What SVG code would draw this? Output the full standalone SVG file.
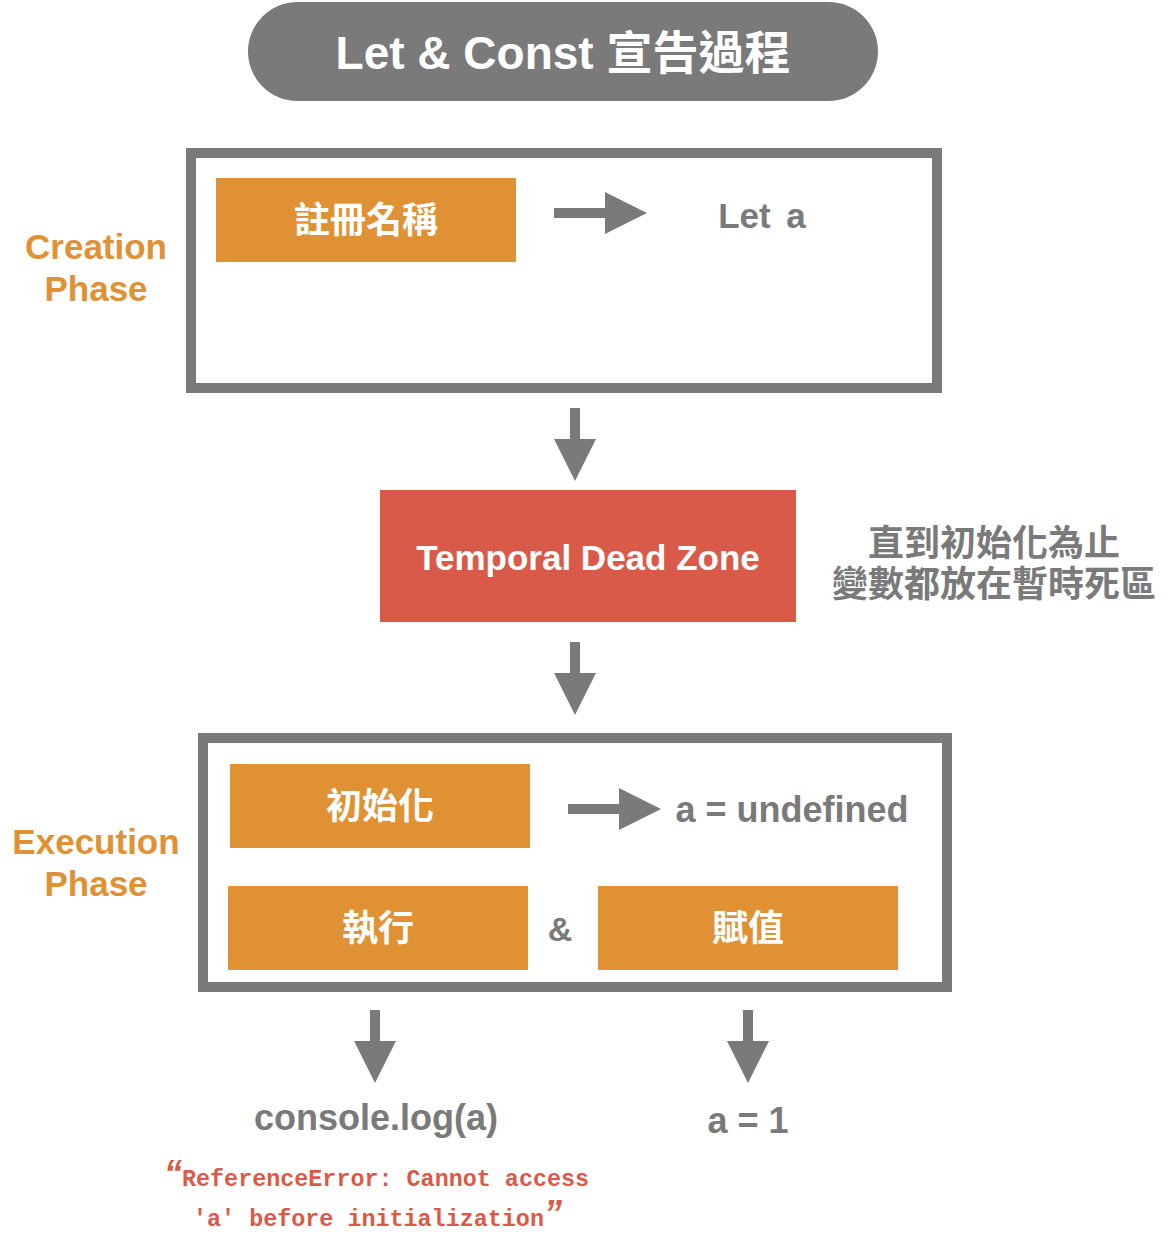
<svg xmlns="http://www.w3.org/2000/svg" width="1172" height="1244" viewBox="0 0 1172 1244">
<defs>
<style>
.t{font-family:"Liberation Sans","Noto Sans CJK TC",sans-serif;font-weight:bold;text-anchor:middle}
.w{fill:#ffffff}
.g{fill:#7a7a7a}
.o{fill:#e09134}
.box{fill:#e09134}
.frame{fill:#ffffff;stroke:#7a7a7a;stroke-width:10}
.conn{stroke:#7a7a7a;stroke-width:10;fill:none;marker-end:url(#ah)}
.err{font-family:"Liberation Mono","DejaVu Sans Mono",monospace;font-weight:bold;font-size:23.4px;fill:#d95a48}
.q{font-family:"Liberation Sans",sans-serif;font-style:italic;font-weight:bold;font-size:36px}
</style>
<marker id="ah" markerUnits="userSpaceOnUse" markerWidth="42" markerHeight="42" viewBox="0 0 42 42" refX="0" refY="21" orient="auto">
<path d="M0,0 L42,21 L0,42 Z" fill="#7a7a7a"/>
</marker>
</defs>
<rect width="1172" height="1244" fill="#ffffff"/>

<g id="title">
<rect x="248" y="2" width="630" height="99" rx="49.5" fill="#7a7a7a"/>
<text class="t w" x="563" y="69" font-size="46">Let &amp; Const 宣告過程</text>
</g>

<g id="creation-label">
<text class="t o" x="96" y="259" font-size="35">Creation</text>
<text class="t o" x="96" y="301" font-size="35">Phase</text>
</g>

<g id="creation-phase">
<rect class="frame" x="191" y="153" width="746" height="235"/>
</g>

<g id="register-name">
<rect class="box" x="216" y="178" width="300" height="84"/>
<text class="t w" x="366" y="233" font-size="36">註冊名稱</text>
</g>

<g id="let-a">
<text class="t g" x="762" y="228" font-size="35" word-spacing="6">Let a</text>
</g>

<g id="tdz">
<rect x="380" y="490" width="416" height="132" fill="#d95a48"/>
<text class="t w" x="588" y="570" font-size="35">Temporal Dead Zone</text>
</g>

<g id="tdz-note">
<text class="t g" x="994" y="556" font-size="36">直到初始化為止</text>
<text class="t g" x="994" y="597" font-size="36">變數都放在暫時死區</text>
</g>

<g id="execution-label">
<text class="t o" x="96" y="854" font-size="35">Execution</text>
<text class="t o" x="96" y="896" font-size="35">Phase</text>
</g>

<g id="execution-phase">
<rect class="frame" x="203" y="738" width="744" height="249"/>
</g>

<g id="initialize">
<rect class="box" x="230" y="764" width="300" height="84"/>
<text class="t w" x="380" y="819" font-size="36">初始化</text>
</g>

<g id="a-undefined">
<text class="t g" x="792" y="822" font-size="36">a = undefined</text>
</g>

<g id="execute">
<rect class="box" x="228" y="886" width="300" height="84"/>
<text class="t w" x="378" y="941" font-size="36">執行</text>
</g>

<g id="amp">
<text class="t g" x="560" y="941" font-size="34">&amp;</text>
</g>

<g id="assign">
<rect class="box" x="598" y="886" width="300" height="84"/>
<text class="t w" x="748" y="941" font-size="36">賦值</text>
</g>

<g id="console-log">
<text class="t g" x="376" y="1130" font-size="36">console.log(a)</text>
</g>

<g id="a-equals-1">
<text class="t g" x="748" y="1133" font-size="36">a = 1</text>
</g>

<g id="error-msg">
<text class="err" x="164" y="1186"><tspan class="q">“</tspan><tspan>ReferenceError: Cannot access</tspan></text>
<text class="err" x="193" y="1226">'a' before initialization<tspan class="q">”</tspan></text>
</g>

<g id="connectors">
<line class="conn" x1="554" y1="213" x2="605" y2="213"/>
<line class="conn" x1="575" y1="408" x2="575" y2="439"/>
<line class="conn" x1="575" y1="642" x2="575" y2="673"/>
<line class="conn" x1="568" y1="809" x2="619" y2="809"/>
<line class="conn" x1="375" y1="1010" x2="375" y2="1041"/>
<line class="conn" x1="748" y1="1010" x2="748" y2="1041"/>
</g>
</svg>
